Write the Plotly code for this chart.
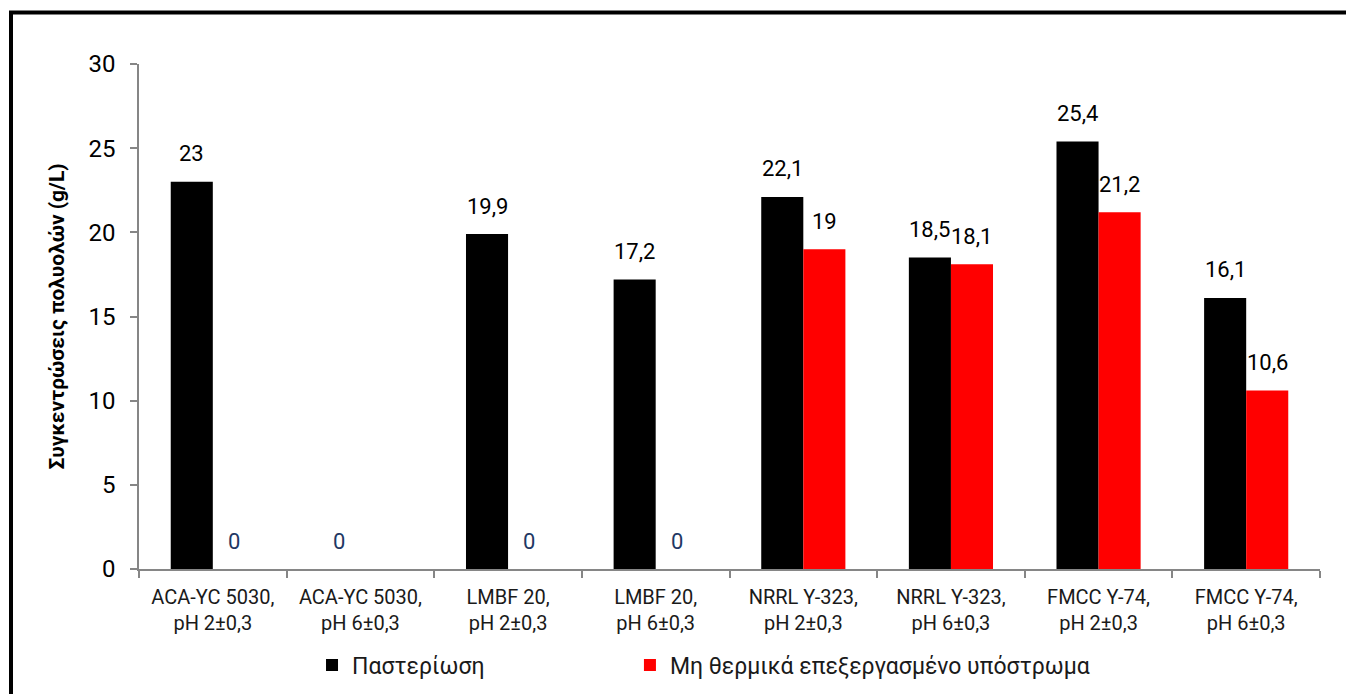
import plotly.graph_objects as go

categories = [
    "ACA-YC 5030,<br>pH 2±0,3",
    "ACA-YC 5030,<br>pH 6±0,3",
    "LMBF 20,<br>pH 2±0,3",
    "LMBF 20,<br>pH 6±0,3",
    "NRRL Y-323,<br>pH 2±0,3",
    "NRRL Y-323,<br>pH 6±0,3",
    "FMCC Y-74,<br>pH 2±0,3",
    "FMCC Y-74,<br>pH 6±0,3",
]
pasteurised = [23, 0, 19.9, 17.2, 22.1, 18.5, 25.4, 16.1]
untreated = [0, None, 0, 0, 19, 18.1, 21.2, 10.6]
series_names = ["Παστερίωση", "Μη θερμικά επεξεργασμένο υπόστρωμα"]
y_title = "Συγκεντρώσεις πολυολών (g/L)"

FONT = "Roboto"

def fmt(v):
    return str(v).replace(".", ",")

fig = go.Figure()
fig.add_trace(go.Bar(x=categories, y=pasteurised, name=series_names[0],
                     legend="legend",
                     marker=dict(color="#000000", line=dict(width=0))))
fig.add_trace(go.Bar(x=categories, y=untreated, name=series_names[1],
                     legend="legend2",
                     marker=dict(color="#FF0000", line=dict(width=0))))

annotations = []
for series, shift in ((pasteurised, -21), (untreated, 21)):
    for cat, v in zip(categories, series):
        if v is None:
            continue
        annotations.append(dict(
            x=cat, y=v, xref="x", yref="y", text=fmt(v), showarrow=False,
            xshift=shift, yshift=28, yanchor="middle",
            font=dict(family=FONT, size=22,
                      color="#1F3864" if v == 0 else "#000000"),
        ))

# page body has an 8px margin, so the figure is drawn at (8, 8)
W, H = 1346, 686
L, R, T, B = 131, 34, 56, 125
pw, ph = W - L - R, H - T - B
bx = (3 - L) / pw
by = (H - B - 4.5) / ph

legend_font = dict(family=FONT, size=23, color="#1a1a1a")

fig.update_layout(
    width=W, height=H,
    margin=dict(l=L, r=R, t=T, b=B, autoexpand=False),
    paper_bgcolor="white", plot_bgcolor="white",
    barmode="group", bargap=0.43, bargroupgap=0,
    font=dict(family=FONT, color="#1a1a1a"),
    showlegend=True,
    legend=dict(orientation="h", x=0.1465, xanchor="left", y=-0.19,
                yanchor="middle", font=legend_font, bgcolor="rgba(0,0,0,0)"),
    legend2=dict(orientation="h", x=0.4157, xanchor="left", y=-0.19,
                 yanchor="middle", font=legend_font, bgcolor="rgba(0,0,0,0)"),
    annotations=annotations,
    shapes=[dict(type="path", xref="paper", yref="paper",
                 path=f"M {bx} -0.4 L {bx} {by} L 1.2 {by}",
                 line=dict(color="#000000", width=4))],
)
fig.update_xaxes(
    automargin=False,
    showline=True, linecolor="#868686", linewidth=1.5,
    ticks="outside", tickson="boundaries", ticklen=7, tickcolor="#868686",
    tickwidth=1.5, ticklabelstandoff=9,
    tickfont=dict(family=FONT, size=20, color="#1a1a1a"),
    showgrid=False, zeroline=False,
)
fig.update_yaxes(
    automargin=False,
    range=[0, 30], dtick=5, showline=True, linecolor="#868686", linewidth=1.5,
    ticks="outside", ticklen=7, tickcolor="#868686", tickwidth=1.5,
    ticklabelstandoff=10,
    tickfont=dict(family=FONT, size=24, color="#000000"),
    showgrid=False, zeroline=False,
    title=dict(text=f"<b>{y_title}</b>", standoff=18,
               font=dict(family=FONT, size=21, color="#000000")),
)

fig.write_html("out.html")
